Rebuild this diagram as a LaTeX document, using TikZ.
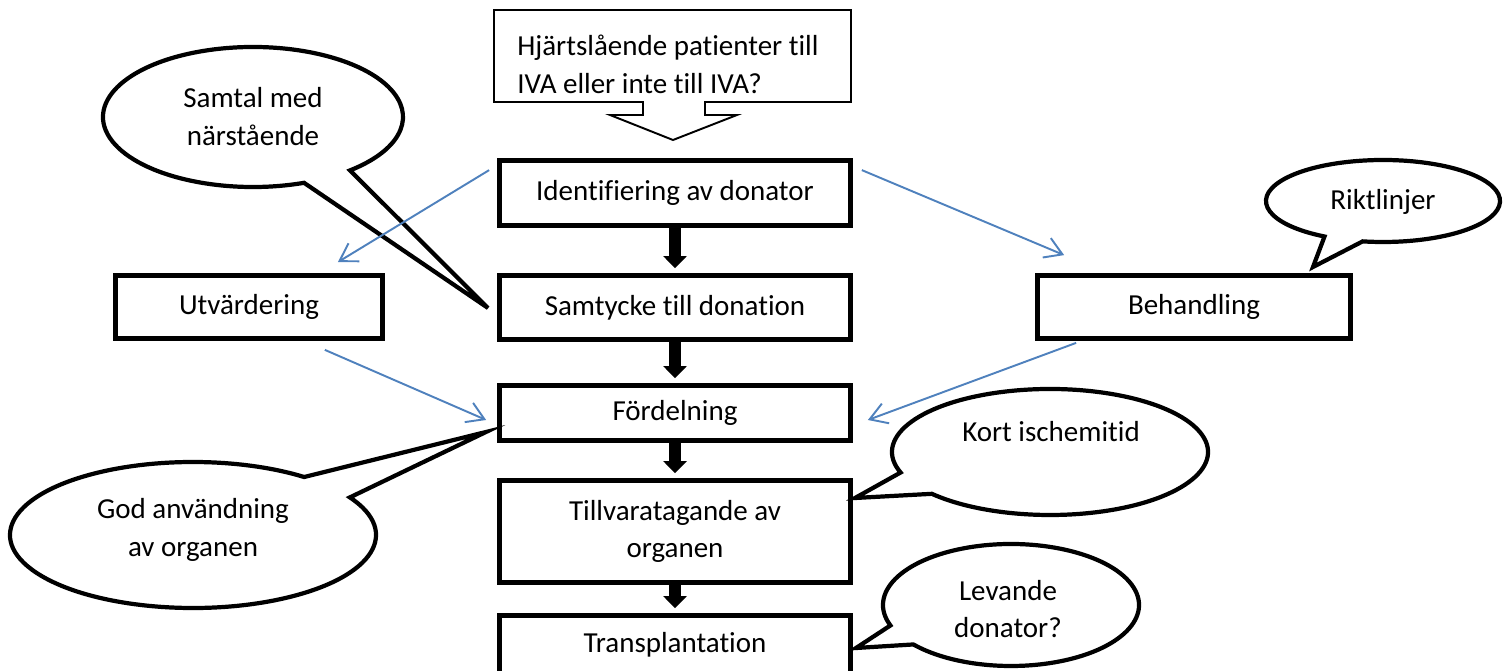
\documentclass[tikz,border=0pt]{standalone}
\usepackage{fontspec}
\setmainfont{Carlito}[Ligatures=NoCommon]
\usetikzlibrary{arrows.meta,calc}
\definecolor{linkblue}{HTML}{4F81BD}

\begin{document}
\begin{tikzpicture}[x=0.02cm,y=-0.02cm,
    every node/.style={font=\fontsize{16.5}{21.5}\selectfont},
    box/.style={draw,line width=3pt,minimum width=7.01cm,align=center,inner sep=0pt},
    sidebox/.style={box,minimum height=1.25cm},
    flow/.style={line width=0.24cm,-{Triangle[width=0.46cm,length=0.24cm]},shorten >=0.1cm},
    link/.style={draw=linkblue,line width=1.1pt,-{Straight Barb[length=0.34cm,width=0.42cm]}},
    bubble/.style={draw,fill=white,line width=2.4pt,line join=miter},
    say/.style={align=center,inner sep=0pt}]
    \useasboundingbox (0,0) rectangle (1508,671);

    % Question box with its arrow
    \draw[line width=1.1pt] (494,10) -- (851,10) -- (851,102) -- (705,102) -- (705,115)
        -- (737,115) -- (673,140) -- (610,115) -- (643,115) -- (643,102) -- (494,102) -- cycle;
    \node[anchor=west,align=left,inner sep=0pt] (question) at (517,64)
        {Hjärtslående patienter till\\IVA eller inte till IVA?};

    % Speech bubbles
    \draw[bubble] (253,117) ++(70.1:150 and 70)
        arc[start angle=70.1,end angle=409.7,x radius=150,y radius=70] -- (488,308) -- cycle;
    \draw[bubble] (1383,201) ++(120:117 and 41)
        arc[start angle=120,end angle=460,x radius=117,y radius=41] -- (1313,267) -- cycle;
    \draw[bubble] (193,535) ++(-31:183 and 73)
        arc[start angle=-31,end angle=307.4,x radius=183,y radius=73] -- (486,432) -- cycle;
    \draw[bubble] (1050,452) ++(161:158 and 63)
        arc[start angle=161,end angle=498.4,x radius=158,y radius=63] -- (855,498) -- cycle;
    \draw[bubble] (1011,605) ++(160.4:128 and 61)
        arc[start angle=160.4,end angle=499.7,x radius=128,y radius=61] -- (856,648) -- cycle;

    \node[say] (samtal) at (253,116.5) {Samtal med\\närstående};
    \node[say] (riktlinjer) at (1383,202) {Riktlinjer};
    \node[say] (anvandning) at (193,530) {God användning\\av organen};
    \node[say] (ischemi) at (1051,432) {Kort ischemitid};
    \node[say] (levande) at (1008,609) {Levande\\donator?};

    % Main chain
    \node[box,minimum height=1.29cm] (ident) at (675,193) {Identifiering av donator};
    \node[box,minimum height=1.27cm] (samt) at (675,307.5) {Samtycke till donation};
    \node[box,minimum height=1.09cm] (ford) at (675,413) {Fördelning};
    \node[box,minimum height=2.03cm] (tillv) at (675,531.5) {Tillvaratagande av\\organen};
    \node[box,minimum height=1.17cm] (transpl) at (675,645) {Transplantation};

    % Side boxes
    \node[sidebox,minimum width=5.33cm] (utv) at (249,307) {Utvärdering};
    \node[sidebox,minimum width=6.25cm] (beh) at (1194,307) {Behandling};

    % Block arrows
    \draw[flow] (ident) -- (samt);
    \draw[flow] (samt) -- (ford);
    \draw[flow] (ford) -- (tillv);
    \draw[flow] (tillv) -- (transpl);

    % Thin links
    \draw[link] ($(ident.north west)+(-8,12)$) -- ($(utv.north east)+(-47,-11)$);
    \draw[link] ($(ident.north east)+(9,12)$) -- ($(beh.north west)+(29,-18)$);
    \draw[link] ($(utv.south east)+(-60,9)$) -- ($(ford.west)+(-11,7)$);
    \draw[link] ($(beh.south west)+(41,2)$) -- ($(ford.east)+(15,7)$);
\end{tikzpicture}
\end{document}
